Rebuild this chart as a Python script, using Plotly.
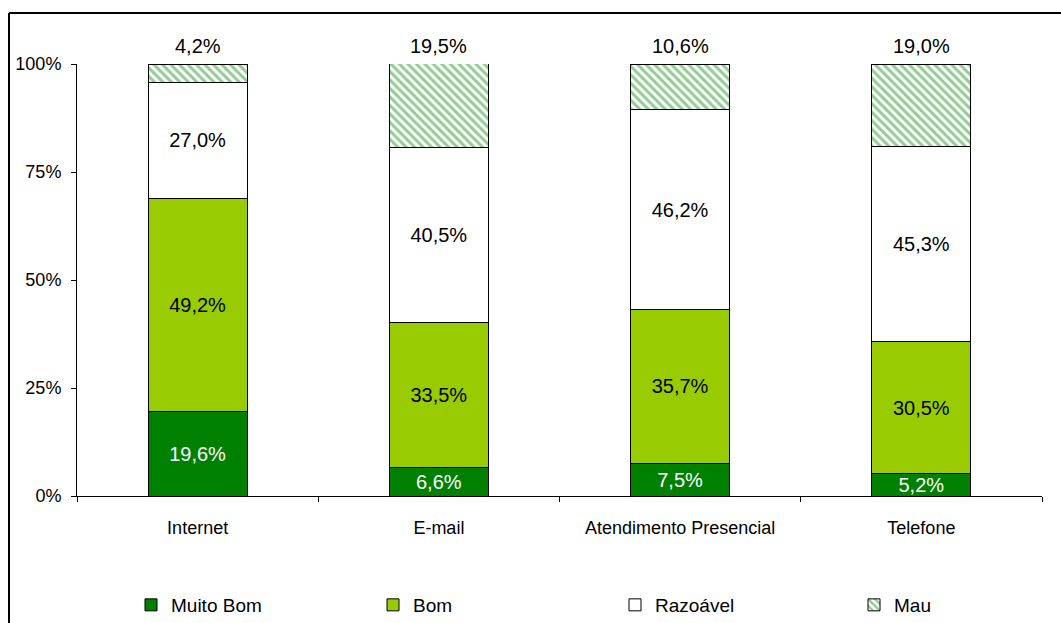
import plotly.graph_objects as go

categories = ["Internet", "E-mail", "Atendimento Presencial", "Telefone"]
muito_bom = [19.6, 6.6, 7.5, 5.2]
bom = [49.2, 33.5, 35.7, 30.5]
razoavel = [27.0, 40.5, 46.2, 45.3]
mau = [4.2, 19.5, 10.6, 19.0]
y_ticks = [0, 25, 50, 75, 100]

FONT = "Liberation Sans, Arial, sans-serif"
W, H = 1061, 623
ML, MR, MT, MB = 77, 19, 64, 127

pw = W - ML - MR
ph = H - MT - MB

fig = go.Figure()

series = [
    ("Muito Bom", muito_bom, "#008000", "white", None, "legend"),
    ("Bom", bom, "#99CC00", "black", None, "legend"),
    ("Razoável", razoavel, "#FFFFFF", "black", None, "legend"),
    ("Mau", mau, "#FFFFFF", "black",
     dict(shape="\\", fgcolor="#259A25", bgcolor="#FFFFFF", size=6, solidity=0.5), "legend2"),
]

for name, vals, color, tcolor, pattern, leg in series:
    marker = dict(color=color, line=dict(color="black", width=1))
    if pattern:
        marker["pattern"] = pattern
    is_top = name == "Mau"
    fig.add_trace(go.Bar(
        name=name,
        x=categories,
        y=vals,
        marker=marker,
        width=0.41,
        texttemplate="" if is_top else "%{y:.1f}%",
        textposition="inside",
        insidetextanchor="middle",
        constraintext="none",
        textfont=dict(family=FONT, size=20, color=tcolor),
        cliponaxis=False,
        hoverinfo="skip",
        legend=leg,
    ))

# value of the top segment written above each column
totals = [a + b + c + d for a, b, c, d in zip(muito_bom, bom, razoavel, mau)]
for cat, tot, v in zip(categories, totals, mau):
    fig.add_annotation(
        x=cat, y=min(tot, 100), xref="x", yref="y",
        text=f"{v:.1f}%".replace(".", ","),
        showarrow=False, yanchor="middle", yshift=18,
        font=dict(family=FONT, size=20, color="black"),
    )

bx = (9 - ML) / pw
by = 1 + (MT - 13) / ph
leg_y = (MT + ph - 605) / ph

fig.update_layout(
    width=W, height=H,
    margin=dict(l=ML, r=MR, t=MT, b=MB, autoexpand=False),
    barmode="stack",
    separators=",.",
    paper_bgcolor="white",
    plot_bgcolor="white",
    font=dict(family=FONT, size=18, color="black"),
    showlegend=True,
    legend=dict(
        orientation="h",
        x=(131 - ML) / pw, xanchor="left",
        y=leg_y, yanchor="middle",
        entrywidth=197, entrywidthmode="pixels",
        traceorder="normal",
        font=dict(family=FONT, size=19),
        itemclick=False, itemdoubleclick=False,
    ),
    legend2=dict(
        orientation="h",
        x=(131 + 3 * 241 - ML) / pw, xanchor="left",
        y=leg_y, yanchor="middle",
        font=dict(family=FONT, size=19),
        itemclick=False, itemdoubleclick=False,
    ),
    xaxis=dict(
        showline=True, linecolor="black", linewidth=1,
        ticks="outside", ticklen=5, tickcolor="black",
        tickson="boundaries",
        ticklabelstandoff=15,
        tickfont=dict(family=FONT, size=18),
        showgrid=False,
    ),
    yaxis=dict(
        range=[0, 100],
        tickvals=y_ticks,
        ticktext=[f"{v}%" for v in y_ticks],
        showline=True, linecolor="black", linewidth=1,
        ticks="outside", ticklen=5, tickcolor="black",
        ticklabelstandoff=6,
        tickfont=dict(family=FONT, size=18),
        showgrid=False, zeroline=False,
    ),
    shapes=[
        dict(type="line", xref="paper", yref="paper", x0=bx, x1=bx, y0=by, y1=-0.4,
             line=dict(color="black", width=2)),
        dict(type="line", xref="paper", yref="paper", x0=bx, x1=1.1, y0=by, y1=by,
             line=dict(color="black", width=2)),
    ],
)

fig.write_html("out.html")
